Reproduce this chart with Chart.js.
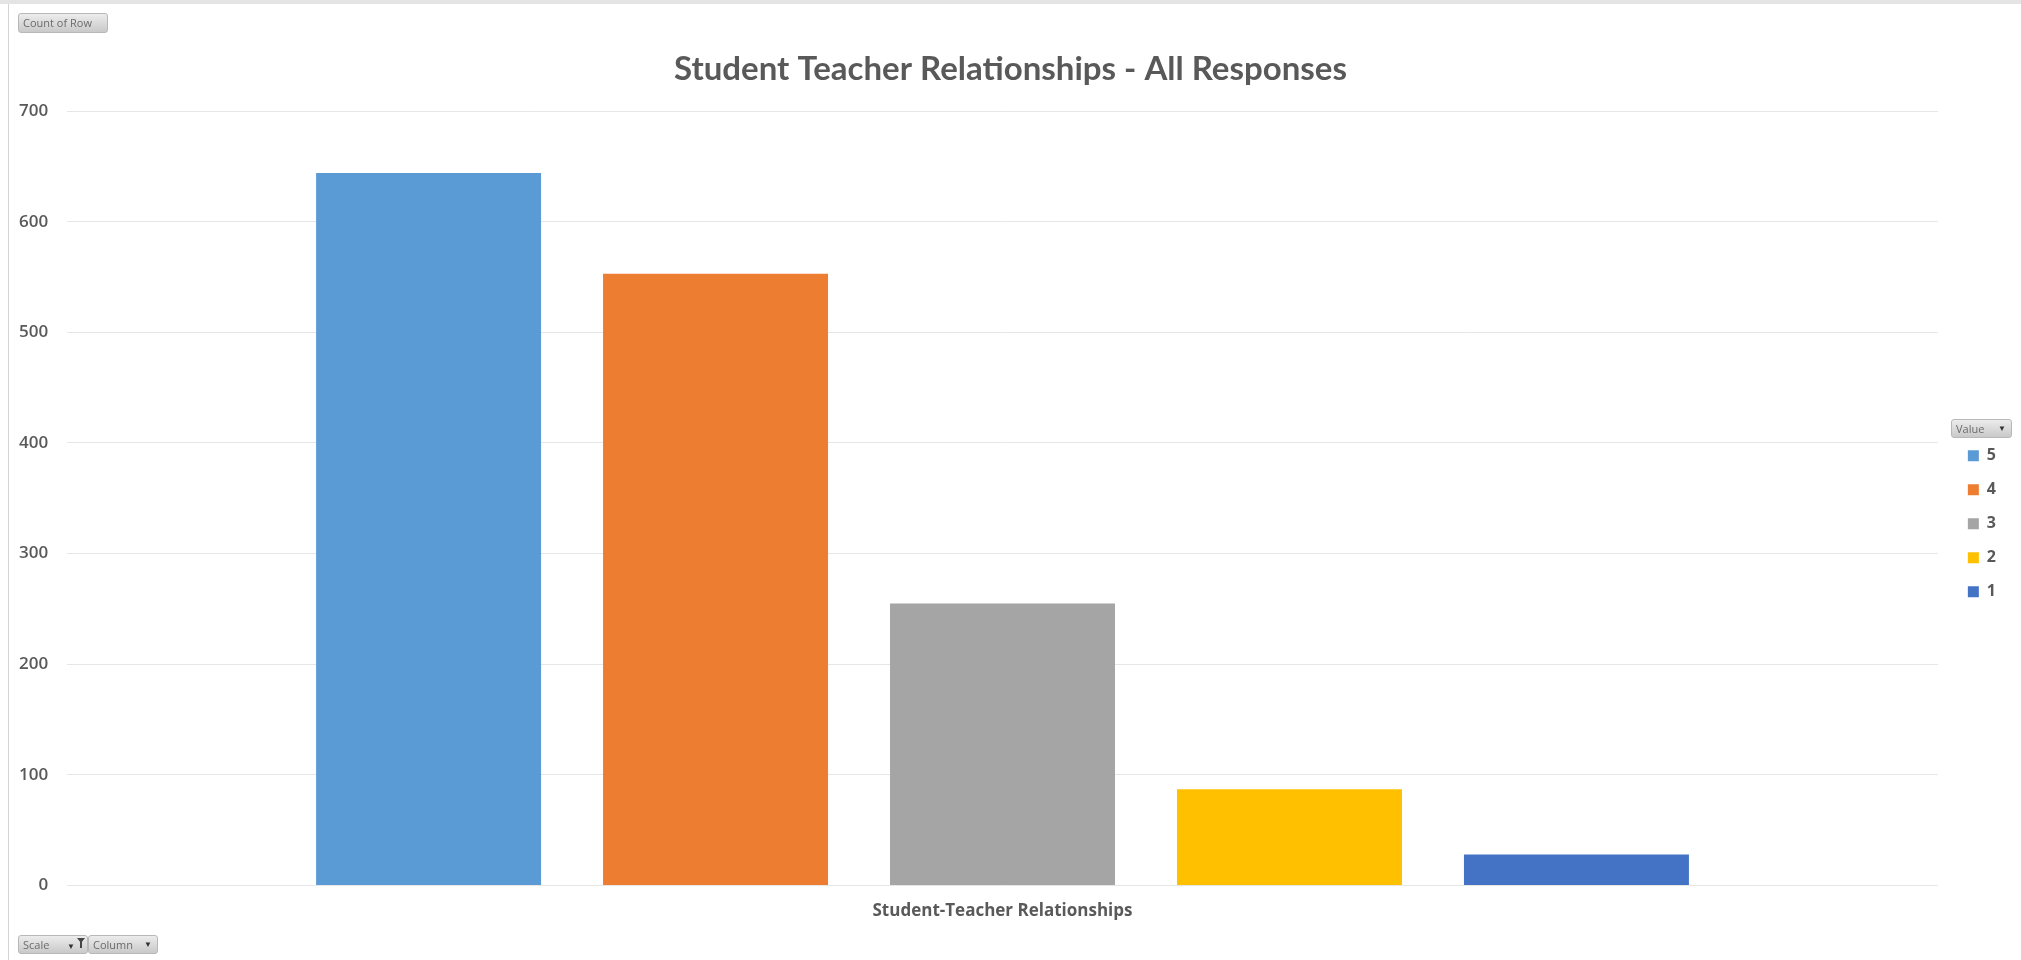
<!DOCTYPE html>
<html>
<head>
<meta charset="utf-8">
<script src="https://cdn.jsdelivr.net/npm/chart.js@4.4.1/dist/chart.umd.min.js"></script>
<style>
  html, body { margin: 0; padding: 0; background: #fff; }
  #wrap { position: relative; width: 2021px; height: 960px; overflow: hidden; }
  #frame { position: absolute; left: 8px; top: 4px; width: 2010px; height: 960px; border-left: 1px solid #d4d4d4; }
  #topstrip { position: absolute; left: 0; top: 0; width: 2021px; height: 4px; background: #e4e4e4; }
  .btn {
    position: absolute; box-sizing: border-box;
    background: linear-gradient(#ececec, #c9c9c9);
    border: 1px solid #b8b8b8; border-radius: 3px;
    font: 11px "Open Sans", sans-serif; color: #6b6b6b;
    padding: 1px 4px; line-height: 16px; white-space: nowrap;
  }
  .arrow { position: absolute; right: 5px; top: 0; font-size: 8px; color: #333; }
  .embudo { position: absolute; right: 2px; top: 2px; width: 0; height: 0;
            border-left: 4px solid transparent; border-right: 4px solid transparent; border-top: 5px solid #444; }
  .embudo::after { content: ''; position: absolute; left: -1px; top: -1px; width: 2px; height: 6px; background: #444; }
</style>
</head>
<body>
<div id="wrap">
  <div id="topstrip"></div>
  <div id="frame"></div>
  <canvas id="grafico"></canvas>
  <div class="btn" style="left:18px; top:13px; width:90px; height:20px;">Count of Row</div>
  <div class="btn" style="left:1951px; top:419px; width:61px; height:19px;">Value<span class="arrow">&#9660;</span></div>
  <div class="btn" style="left:18px; top:935px; width:70px; height:19px;">Scale<span class="arrow" style="right:12px;top:2px;">&#9660;</span><span class="embudo"></span></div>
  <div class="btn" style="left:88px; top:935px; width:70px; height:19px;">Column<span class="arrow">&#9660;</span></div>
</div>
<script>
const categorias = ['Student-Teacher Relationships'];
const valores = ['5', '4', '3', '2', '1'];
const cantidades = [644, 553, 255, 87, 28];
const colores = ['#5B9BD5', '#ED7D31', '#A5A5A5', '#FFC000', '#4472C4'];
const marcasY = [0, 100, 200, 300, 400, 500, 600, 700];

// la leyenda ocupa mas ancho y queda separada del area del grafico, como en Excel
const ajustarLeyenda = {
    id: 'ajustarLeyenda',
    beforeLayout(chart) {
        const leyenda = chart.legend;
        if (leyenda && !leyenda._ajustada) {
            const fitOriginal = leyenda.fit;
            leyenda.fit = function () {
                fitOriginal.call(this);
                this.width += 27;
            };
            leyenda._ajustada = true;
        }
    },
    afterLayout(chart) {
        chart.legend.left += 12;
        chart.legend.right += 12;
    }
};

document.addEventListener("DOMContentLoaded", function () {
    const ctx = document.getElementById('grafico').getContext('2d');
    const grafico = new Chart(ctx, {
        type: 'bar',
        data: {
            labels: categorias,
            datasets: valores.map((v, i) => ({
                label: v,
                data: [cantidades[i]],
                backgroundColor: colores[i],
                borderWidth: 0,
                categoryPercentage: 0.767,
                barPercentage: 0.784
            }))
        },
        options: {
            responsive: true,
            maintainAspectRatio: false,
            animation: false,
            layout: { padding: { left: 0, right: 0, top: 0, bottom: 24 } },
            plugins: {
                title: {
                    display: true,
                    text: 'Student Teacher Relationships - All Responses',
                    color: '#595959',
                    font: { family: 'Lato', size: 33, weight: 'bold' },
                    padding: { top: 50, bottom: 21.4 }
                },
                legend: {
                    position: 'right',
                    title: { display: true, text: ' ', font: { size: 12 }, padding: { top: 0, bottom: 97 } },
                    labels: {
                        boxWidth: 11,
                        boxHeight: 11,
                        padding: 18,
                        color: '#595959',
                        font: { family: 'Open Sans', size: 16, weight: 'bold' }
                    }
                },
                tooltip: { enabled: false }
            },
            scales: {
                x: {
                    grid: { display: false, drawTicks: false },
                    border: { display: false },
                    ticks: {
                        color: '#595959',
                        padding: 15,
                        font: { family: 'Open Sans', size: 17, weight: 'bold' }
                    }
                },
                y: {
                    min: 0,
                    max: 700,
                    afterBuildTicks: (axis) => { axis.ticks = marcasY.map(v => ({ value: v })); },
                    grid: { color: '#e6e6e6', drawTicks: false },
                    border: { display: false },
                    ticks: {
                        color: '#595959',
                        padding: 19,
                        font: { family: 'Open Sans', size: 17, weight: '600' }
                    }
                }
            }
        },
        plugins: [ajustarLeyenda]
    });
});
</script>
</body>
</html>
